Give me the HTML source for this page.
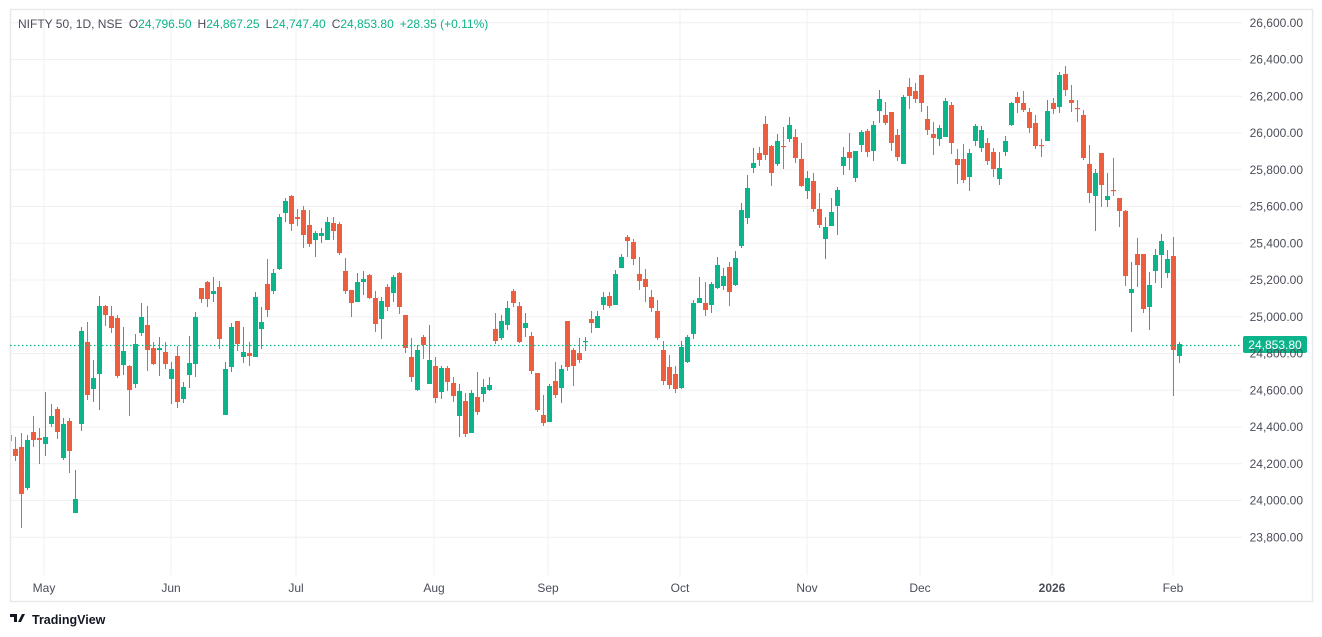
<!DOCTYPE html>
<html><head><meta charset="utf-8"><style>
html,body{margin:0;padding:0;background:#fff;width:1322px;height:637px;overflow:hidden}
svg{display:block;font-family:"Liberation Sans",sans-serif}
</style></head><body>
<svg id="s" width="1322" height="637" xmlns="http://www.w3.org/2000/svg">
<defs><clipPath id="cp"><rect x="11" y="10" width="1231" height="565"/></clipPath></defs>
<rect x="0" y="0" width="1322" height="637" fill="#fff"/>
<g id="grid"></g>
<g id="c" clip-path="url(#cp)"></g>
<rect x="10.5" y="9.5" width="1302" height="592" fill="none" stroke="#e9e9ec" stroke-width="1.5"/>
<line x1="10" y1="345.5" x2="1242" y2="345.5" stroke="#0bb48a" stroke-width="1.2" stroke-dasharray="1.5,2.5"/>
<rect x="1243" y="336" width="64" height="17" rx="2" fill="#0bb48a"/>
<text x="1275" y="349" font-size="12" fill="#fff" text-anchor="middle">24,853.80</text>
<text x="18" y="28" font-size="12" fill="#4b4d5a">NIFTY 50, 1D, NSE <tspan dx="3">O</tspan><tspan fill="#0bb48a">24,796.50</tspan><tspan dx="6">H</tspan><tspan fill="#0bb48a">24,867.25</tspan><tspan dx="6">L</tspan><tspan fill="#0bb48a">24,747.40</tspan><tspan dx="6">C</tspan><tspan fill="#0bb48a">24,853.80</tspan><tspan dx="6" fill="#0bb48a">+28.35 (+0.11%)</tspan></text>
<g id="lbl" font-size="12" fill="#4b4d5a"></g>
<g transform="translate(10,612)">
<path d="M0 2h7v8h-3v-5h-4z M8 10l4-8h3l-4 8z" fill="#131722"/>
<text x="22" y="12" font-size="12.5" font-weight="bold" fill="#131722">TradingView</text>
</g>
</svg>
<script>
var NS="http://www.w3.org/2000/svg";
function el(p,t,a,txt){var e=document.createElementNS(NS,t);for(var k in a)e.setAttribute(k,a[k]);if(txt)e.textContent=txt;p.appendChild(e);return e;}
var grid=document.getElementById('grid'),lbl=document.getElementById('lbl'),cg=document.getElementById('c');
for(var i=0;i<=14;i++){var p=23800+i*200;var y=537.3-i*36.75;
el(grid,'line',{x1:10,x2:1242,y1:y,y2:y,stroke:'#f0f0f3','stroke-width':1});
if(Math.abs(y-345)>8) el(lbl,'text',{x:1303,y:y+4,'text-anchor':'end'},p.toLocaleString('en-US')+'.00');}
var months=[["May",44],["Jun",171],["Jul",296],["Aug",434],["Sep",548],["Oct",680],["Nov",807],["Dec",920],["2026",1052],["Feb",1173]];
months.forEach(function(m){el(grid,'line',{x1:m[1],x2:m[1],y1:10,y2:575,stroke:'#f0f0f3','stroke-width':1});
el(lbl,'text',{x:m[1],y:592,'text-anchor':'middle','font-weight':m[0]=="2026"?'bold':'normal'},m[0]);});
var d=[[435,441,435,441,0],[449,456,437,461,0],[447,494,433,528,0],[440,488,435,490,1],[432,440,416,447,0],[438,440,428,464,0],[437,444,392,456,1],[416,424,404,427,1],[409,432,407,439,0],[424,458,418,460,1],[421,451,418,473,0],[499,513,470,513,1],[331,424,327,431,1],[342,395,322,400,0],[378,389,360,402,1],[306,374,296,410,1],[306,315,305,326,0],[316,328,306,333,0],[318,376,315,378,0],[351,365,327,375,1],[366,390,365,416,0],[344,384,334,388,1],[317,333,303,336,1],[325,350,306,371,0],[348,364,342,365,0],[348,350,337,376,1],[352,364,342,369,0],[369,379,362,404,1],[356,402,346,408,0],[387,399,382,403,1],[363,375,336,388,1],[317,364,312,377,1],[288,299,288,303,0],[282,299,281,307,0],
[291,294,277,302,1],[287,339,281,349,0],[369,415,362,415,1],[327,367,323,372,1],[321,344,321,351,0],[352,357,327,363,1],[353,356,342,366,0],[297,357,292,357,1],[322,329,307,349,1],[284,310,259,317,0],[273,291,269,294,1],[217,269,214,270,1],[201,213,198,222,1],[196,224,195,231,0],[217,219,209,226,0],[210,235,206,248,0],[225,244,210,247,0],[233,240,231,257,1],[233,236,228,243,1],[222,240,217,240,1],[223,231,217,240,0],[224,253,222,255,0],[271,291,258,294,0],[290,303,290,317,0],[282,302,273,302,1],[279,282,271,295,1],[275,298,274,299,0],[298,324,291,332,0],[301,319,297,339,1],[287,307,284,311,0],[277,293,275,302,1],[273,307,272,314,0],[315,348,315,353,0],
[357,377,338,382,0],[350,390,345,391,1],[337,345,335,359,0],[360,384,325,384,1],[366,398,357,403,0],[368,392,366,399,1],[368,382,366,391,0],[383,396,377,402,0],[391,416,384,437,1],[401,434,393,437,0],[393,433,390,433,1],[397,412,372,415,0],[387,394,379,402,1],[385,390,377,391,1],[329,341,313,344,0],[321,338,315,340,1],[308,325,301,330,1],[291,303,289,307,0],[306,342,302,343,0],[323,328,313,337,1],[336,371,332,374,0],[373,410,373,412,0],[415,423,395,426,0],[386,422,384,422,1],[381,395,362,398,0],[369,388,365,403,1],[321,367,321,371,0],[350,366,348,386,0],[353,360,338,363,0],[341,342,337,351,1],[319,323,311,333,0],[316,328,311,328,1],[297,305,292,310,1],
[296,306,292,308,0],[274,305,270,305,1],[257,268,254,268,1],[237,241,235,257,0],[242,259,239,265,0],[274,281,257,290,0],[279,287,269,302,0],[297,308,290,312,0],[311,338,300,340,0],[350,381,341,385,0],[367,385,355,389,0],[374,389,366,393,0],[347,388,341,389,1],[337,362,335,363,1],[303,334,300,339,1],[298,303,277,303,1],[303,310,282,316,0],[284,305,282,313,1],[265,288,257,289,1],[276,286,268,290,1],[267,292,262,306,0],[258,285,251,286,1],[210,246,203,248,1],[188,218,175,224,1],[163,168,148,173,1],[153,160,147,166,0],[124,155,116,160,0],[146,173,145,186,0],[141,164,134,166,1],[146,147,127,169,0],[125,139,117,142,1],[137,158,129,163,0],[159,186,143,187,0],
[178,191,171,199,1],[181,209,173,212,0],[209,225,193,228,0],[227,239,217,259,1],[212,226,198,226,1],[190,206,187,235,1],[157,166,147,175,1],[152,158,133,170,0],[151,178,151,182,1],[132,145,130,152,1],[131,152,129,157,0],[125,151,121,161,1],[99,111,90,123,1],[115,123,102,125,0],[112,143,112,151,0],[135,157,129,161,0],[97,164,95,164,1],[87,96,78,109,0],[91,99,83,103,0],[75,103,75,112,0],[119,130,106,135,0],[134,138,122,155,0],[128,139,125,146,1],[101,137,98,137,1],[105,143,102,154,0],[159,165,149,184,0],[159,180,144,183,0],[153,177,149,191,1],[126,141,124,146,1],[130,148,126,152,1],[143,161,138,165,0],[152,169,148,177,0],[168,179,152,185,1],[141,152,136,156,1],
[103,125,102,126,1],[97,103,92,113,0],[103,110,91,112,0],[112,128,108,133,0],[123,146,115,149,0],[145,146,139,157,0],[111,141,100,141,1],[103,109,98,114,0],[75,107,72,113,1],[74,90,66,96,0],[100,103,85,112,0],[108,109,100,122,0],[115,158,110,160,0],[164,193,145,203,0],[173,196,169,231,1],[153,185,153,207,0],[196,200,173,207,1],[190,191,158,196,0],[198,211,198,227,0],[211,276,210,286,0],[289,293,262,332,1],[254,265,238,287,0],[254,309,254,313,0],[285,307,272,330,1],[255,271,249,283,1],[241,255,234,288,1],[259,273,250,278,1],[256,350,237,396,0],[344,356,342,363,1]];
d.forEach(function(c,i){var x=9+6*i;var col=c[4]?'#0bb48a':'#ed5e41';
var h=Math.max(1.2,c[1]-c[0]);
el(cg,'rect',{x:x,y:c[2],width:1,height:c[3]-c[2],fill:col});
el(cg,'rect',{x:x-2,y:c[0],width:5,height:h,fill:col});});
</script>
</body></html>
